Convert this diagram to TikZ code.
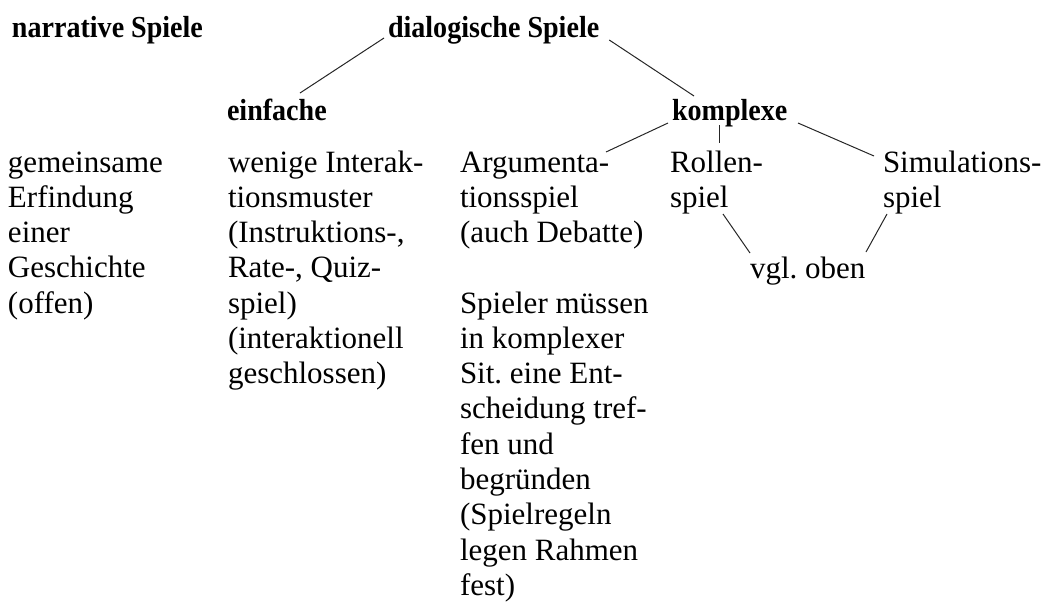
\documentclass[tikz,border=0pt]{standalone}
\usepackage{fontspec}
\setmainfont{Liberation Serif}
\newfontfamily\headfont[FakeStretch=0.92]{Liberation Serif Bold}
\usetikzlibrary{calc}
\frenchspacing
\tikzset{
  txt/.style={inner sep=0pt, outer sep=0pt, anchor=base west, font=\fontsize{31}{35.3}\selectfont},
  head/.style={inner sep=0pt, outer sep=0pt, anchor=base west, font=\fontsize{30.5}{34}\selectfont\headfont},
  conn/.style={line width=1pt, black!85}
}
\newcommand\blk[1]{\begin{tabular}[t]{@{}l@{}}#1\end{tabular}}
\begin{document}
\begin{tikzpicture}[x=1pt,y=-1pt]
\useasboundingbox (0,0) rectangle (1045,606);
% headings
\node[head] (nar) at (12,37) {narrative Spiele};
\node[head] (dia) at (388,37) {dialogische Spiele};
\node[head] (einf) at (227,120) {einfache};
\node[head] (kompl) at (672,120) {komplexe};
% text blocks
\node[txt] (c1) at (8,172) {\blk{gemeinsame\\Erfindung\\einer\\Geschichte\\(offen)}};
\node[txt] (c2) at (228,172) {\blk{wenige Interak-\\tionsmuster\\(Instruktions-,\\Rate-, Quiz-\\spiel)\\(interaktionell\\geschlossen)}};
\node[txt] (c3a) at (460,172) {\blk{Argumenta-\\tionsspiel\\(auch Debatte)}};
\node[txt] (c3b) at (460,313) {\blk{Spieler müssen\\in komplexer\\Sit. eine Ent-\\scheidung tref-\\fen und\\begründen\\(Spielregeln\\legen Rahmen\\fest)}};
\node[txt] (rol) at (670,172) {\blk{Rollen-\\spiel}};
\node[txt] (sim) at (883,172) {\blk{Simulations-\\spiel}};
\node[txt] (vgl) at (750,278) {vgl. oben};
% connectors
\draw[conn] ($(dia.base west)+(-4,1)$) -- ($(einf.base west)+(73,-27)$);
\draw[conn] ($(dia.base east)+(10,3)$) -- ($(kompl.base west)+(22,-24)$);
\draw[conn] ($(kompl.base west)+(-4,3)$) -- ($(c3a.base west)+(146,-20)$);
\draw[conn] ($(kompl.base west)+(47,5)$) -- ($(rol.base west)+(49,-29)$);
\draw[conn] ($(kompl.base west)+(126,3)$) -- ($(sim.base west)+(-9,-16)$);
\draw[conn] ($(rol.base west)+(53,42)$) -- ($(vgl.base west)+(0,-25)$);
\draw[conn] ($(sim.base west)+(4,42)$) -- ($(vgl.base west)+(116,-26)$);
\end{tikzpicture}
\end{document}
